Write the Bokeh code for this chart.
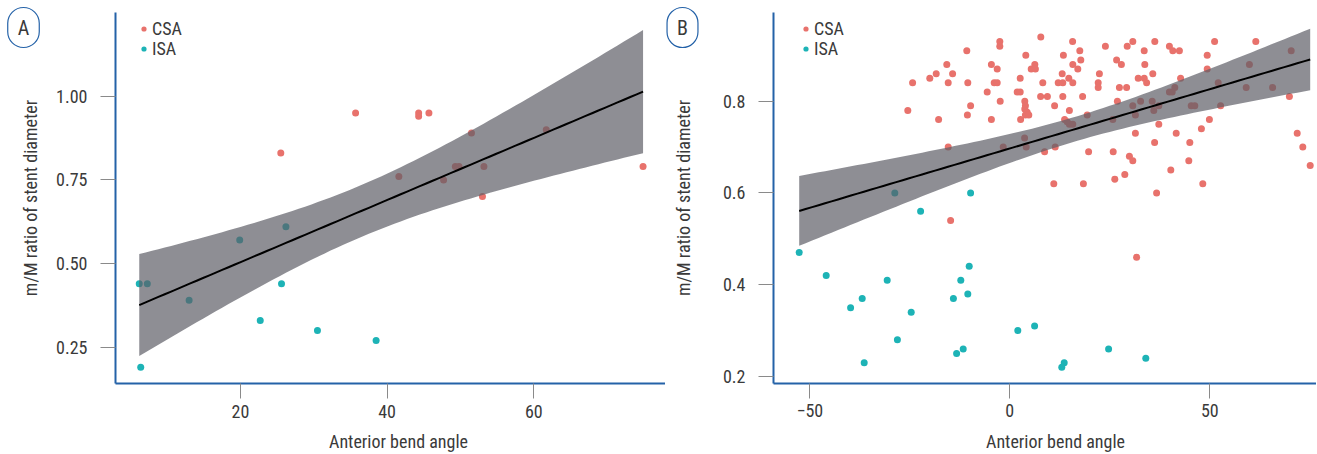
import numpy as np
from bokeh.plotting import figure
from bokeh.models import (Range1d, FixedTicker, PrintfTickFormatter, Label, Legend,
                          LegendItem, LinearAxis)
from bokeh.layouts import row
from bokeh.embed import file_html
from bokeh.resources import INLINE

# ---------------- data ----------------
# Panel A
a_csa_x = [25.5, 35.7, 44.3, 44.3, 45.7, 51.5, 61.7, 41.6, 47.7, 49.3, 49.8, 53.2, 53.0, 74.9]
a_csa_y = [0.83, 0.95, 0.95, 0.94, 0.95, 0.89, 0.90, 0.76, 0.75, 0.79, 0.79, 0.79, 0.70, 0.79]
a_isa_x = [6.2, 7.3, 13.0, 19.9, 26.2, 25.6, 22.7, 30.5, 6.4, 38.5]
a_isa_y = [0.44, 0.44, 0.39, 0.57, 0.61, 0.44, 0.33, 0.30, 0.19, 0.27]

# Panel B
b_csa_x = [-10.75, -15.75, -18.4, -20.0, -14.3, -24.3, -15.4, -10.5, -5.65, -9.8,
           -10.6, -25.5, -17.8, -15.4, -14.8, -2.5, -2.5, 7.75, 15.7, 17.5,
           4.0, 13.4, 17.75, -4.6, -3.15, 15.75, 17.0, 6.25, 5.35, 6.4,
           13.1, 2.6, 14.75, -3.9, -3.15, 8.25, 12.1, 13.25, 15.75, 1.85,
           2.6, 7.7, 9.4, 13.25, 18.2, -2.4, 3.75, 3.9, 3.75, 4.35,
           3.9, 4.75, 11.2, 14.9, -4.6, 2.7, 13.7, 14.35, 14.9, 15.75,
           19.35, 3.7, 4.1, -1.65, 8.7, 11.35, 19.7, 11.0, 18.4, 23.9,
           29.35, 30.75, 36.25, 33.6, 39.9, 40.75, 42.4, 26.7, 27.9, 33.75,
           22.4, 22.1, 22.1, 32.1, 33.6, 34.2, 35.75, 42.7, 27.4, 29.2,
           26.9, 30.75, 32.7, 35.6, 31.4, 36.0, 37.25, 39.9, 40.6, 41.25,
           45.35, 46.25, 25.75, 37.25, 31.4, 41.6, 47.9, 36.2, 45.0, 25.85,
           29.9, 30.75, 44.75, 40.25, 28.75, 26.25, 48.25, 36.7, 51.2, 61.5,
           49.35, 49.35, 70.35, 59.9, 52.1, 59.1, 65.7, 69.9, 52.7, 49.9,
           71.85, 73.25, 75.1, 31.7]
b_csa_y = [0.91, 0.88, 0.86, 0.85, 0.86, 0.84, 0.84, 0.84, 0.82, 0.79,
           0.77, 0.78, 0.76, 0.70, 0.54, 0.93, 0.92, 0.94, 0.93, 0.91,
           0.90, 0.90, 0.89, 0.88, 0.87, 0.88, 0.87, 0.88, 0.87, 0.87,
           0.86, 0.85, 0.85, 0.84, 0.84, 0.84, 0.84, 0.84, 0.84, 0.82,
           0.82, 0.81, 0.81, 0.81, 0.81, 0.80, 0.80, 0.79, 0.783, 0.776,
           0.77, 0.77, 0.79, 0.78, 0.76, 0.76, 0.76, 0.755, 0.75, 0.75,
           0.77, 0.72, 0.70, 0.70, 0.69, 0.70, 0.69, 0.62, 0.62, 0.92,
           0.92, 0.93, 0.93, 0.91, 0.92, 0.91, 0.91, 0.89, 0.88, 0.88,
           0.86, 0.84, 0.83, 0.85, 0.85, 0.84, 0.86, 0.85, 0.83, 0.83,
           0.80, 0.79, 0.80, 0.80, 0.77, 0.78, 0.79, 0.82, 0.82, 0.83,
           0.79, 0.79, 0.76, 0.75, 0.73, 0.73, 0.74, 0.71, 0.71, 0.69,
           0.68, 0.67, 0.67, 0.65, 0.64, 0.63, 0.62, 0.60, 0.93, 0.93,
           0.90, 0.87, 0.91, 0.88, 0.84, 0.83, 0.83, 0.81, 0.79, 0.76,
           0.73, 0.70, 0.66, 0.46]
b_isa_x = [-52.65, -45.9, -30.65, -36.9, -39.8, -24.65, -28.1, -36.4, -10.15, -12.25,
           -10.5, -14.1, -13.3, -11.65, 2.0, 6.2, 13.6, 13.0, 24.7, 34.0,
           -28.75, -9.8, -22.3]
b_isa_y = [0.47, 0.42, 0.41, 0.37, 0.35, 0.34, 0.28, 0.23, 0.44, 0.41,
           0.38, 0.37, 0.25, 0.26, 0.30, 0.31, 0.23, 0.22, 0.26, 0.24,
           0.60, 0.60, 0.56]

group_labels = ["CSA", "ISA"]
x_title = "Anterior bend angle"
y_title = "m/M ratio of stent diameter"
a_xticks = [20, 40, 60]
a_yticks = [0.25, 0.50, 0.75, 1.00]
b_xticks = [-50, 0, 50]
b_yticks = [0.2, 0.4, 0.6, 0.8]

# ---------------- style / layout ----------------
CSA_COLOR = "#e8726c"
ISA_COLOR = "#1db3b6"
AXIS_BLUE = "#2462a8"
TEXT_COLOR = "#3a3a3a"
TICK_COLOR = "#8a8a8a"
FONT = "Roboto Condensed"
FSIZE = "18px"
H = 452


def t_quantile(df, z=1.959964):
    # Cornish-Fisher expansion of Student t 0.975 quantile
    return (z + (z**3 + z) / (4 * df)
            + (5 * z**5 + 16 * z**3 + 3 * z) / (96 * df**2)
            + (3 * z**7 + 19 * z**5 + 17 * z**3 - 15 * z) / (384 * df**3))


def make_legend(renderer, label, x, y):
    lg = Legend(items=[LegendItem(label=label, renderers=[renderer])],
                location=(x, y), orientation="vertical")
    lg.label_text_font = FONT
    lg.label_text_font_size = FSIZE
    lg.label_text_color = TEXT_COLOR
    lg.glyph_width = 13
    lg.glyph_height = 17
    lg.label_height = 17
    lg.label_standoff = 2
    lg.padding = 0
    lg.margin = 0
    lg.border_line_color = None
    lg.background_fill_alpha = 0
    return lg


def make_panel(cx, cy, ix, iy, width, view_x, view_y, spine_x, spine_y, x_end, y_end,
               xticks, yticks, yfmt, letter, letter_x, legend_x, title_x, ylab_standoff):
    p = figure(width=width, height=H,
               x_range=Range1d(*view_x), y_range=Range1d(*view_y),
               x_axis_location=None, y_axis_location=None,
               output_backend="svg", toolbar_location=None,
               min_border=0, min_border_left=0, min_border_right=0,
               min_border_top=0, min_border_bottom=0)
    p.outline_line_color = None
    p.background_fill_color = "white"
    p.border_fill_color = "white"
    for g in p.grid:
        g.visible = False

    xax = LinearAxis(fixed_location=spine_y, bounds=(spine_x, x_end),
                     ticker=FixedTicker(ticks=xticks))
    yax = LinearAxis(fixed_location=spine_x, bounds=(spine_y, y_end),
                     ticker=FixedTicker(ticks=yticks),
                     formatter=PrintfTickFormatter(format=yfmt))
    for ax in (xax, yax):
        ax.axis_line_color = AXIS_BLUE
        ax.axis_line_width = 2
        ax.major_tick_line_color = TICK_COLOR
        ax.major_tick_line_width = 1
        ax.major_tick_in = 0
        ax.major_tick_out = 15
        ax.minor_tick_line_color = None
        ax.major_label_text_font = FONT
        ax.major_label_text_font_size = FSIZE
        ax.major_label_text_color = TEXT_COLOR
    xax.major_label_standoff = 6
    yax.major_label_standoff = 13
    yax.axis_label = y_title
    yax.axis_label_text_font = FONT
    yax.axis_label_text_font_size = FSIZE
    yax.axis_label_text_font_style = "normal"
    yax.axis_label_text_color = TEXT_COLOR
    yax.axis_label_standoff = ylab_standoff
    p.add_layout(xax, "below")
    p.add_layout(yax, "left")

    r1 = p.scatter(cx, cy, size=7, fill_color=CSA_COLOR, line_color=None)
    r2 = p.scatter(ix, iy, size=7, fill_color=ISA_COLOR, line_color=None)

    # linear fit with 95% confidence band (all points)
    x = np.array(cx + ix, dtype=float)
    y = np.array(cy + iy, dtype=float)
    n = len(x)
    b1, b0 = np.polyfit(x, y, 1)
    xs = np.linspace(x.min(), x.max(), 80)
    yhat = b0 + b1 * xs
    res = y - (b0 + b1 * x)
    s = np.sqrt(np.sum(res ** 2) / (n - 2))
    sxx = np.sum((x - x.mean()) ** 2)
    se = s * np.sqrt(1.0 / n + (xs - x.mean()) ** 2 / sxx)
    t = t_quantile(n - 2)
    p.varea(x=xs, y1=yhat - t * se, y2=yhat + t * se,
            fill_color="#5e5e66", fill_alpha=0.7)
    p.line(xs, yhat, line_color="black", line_width=2)

    p.add_layout(make_legend(r1, group_labels[0], legend_x, 413))
    p.add_layout(make_legend(r2, group_labels[1], legend_x, 393))

    p.add_layout(Label(x=title_x, y=11, x_units="screen", y_units="screen",
                       text=x_title, text_align="center", text_baseline="middle",
                       text_font=FONT, text_font_size=FSIZE,
                       text_color=TEXT_COLOR))
    p.add_layout(Label(x=letter_x, y=H - 27, x_units="screen", y_units="screen",
                       text=letter, text_align="center", text_baseline="middle",
                       text_font=FONT, text_font_size="20px",
                       text_color=TEXT_COLOR, border_line_color=AXIS_BLUE,
                       border_line_width=1.2, border_radius=16, padding=(10, 8)))
    return p


pA = make_panel(a_csa_x, a_csa_y, a_isa_x, a_isa_y, 665,
                (-12.72, 77.96), (-0.0646, 1.286), 2.96, 0.1415, 78.5, 1.25,
                a_xticks, a_yticks, "%.2f", "A", 23, 137, 398, 12)
pB = make_panel(b_csa_x, b_csa_y, b_isa_x, b_isa_y, 651,
                (-86.075, 76.675), (0.0343, 1.0195), -59.1, 0.185, 80.0, 0.993,
                b_xticks, b_yticks, "%.1f", "B", 17, 134, 390, 26)

layout = row(pA, pB)
open("out.html", "w").write(file_html(layout, INLINE))
